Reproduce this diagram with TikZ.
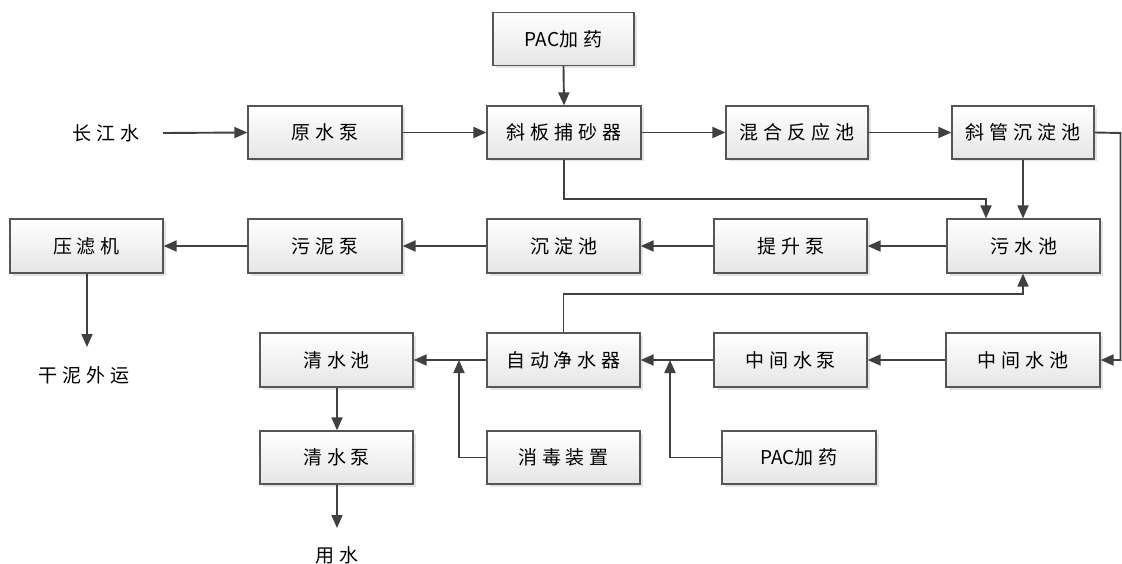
\documentclass[tikz,border=0pt]{standalone}
\usepackage{fontspec}
\setmainfont{Noto Sans CJK SC}
\usetikzlibrary{arrows.meta,shadows}
\definecolor{lc}{HTML}{404040}
\definecolor{bc}{HTML}{555555}
\newcommand\ls{\hspace{5pt}}
\begin{document}
\begin{tikzpicture}[x=1pt,y=-1pt,
  box/.style={draw=bc,line width=1.2pt,top color=white,bottom color=black!10,
    minimum height=53pt,inner sep=0pt,
    drop shadow={shadow xshift=2.5pt,shadow yshift=-2.5pt,fill=black!18,opacity=0.6},
    font=\fontsize{19}{22}\selectfont},
  lbl/.style={inner sep=0pt,font=\fontsize{19}{22}\selectfont},
  arr/.style={draw=lc,line width=1.9pt,-{Triangle[length=13pt,width=11pt]}},
  ln/.style={draw=lc,line width=1.9pt}]
\useasboundingbox (0,0) rectangle (1122,564);
% row 0
\node[box,minimum width=141pt] (pac1) at (563.5,39) {PAC加\ls 药};
% row 1
\node[lbl] (cj) at (106,133) {长\ls 江\ls 水};
\coordinate (cjs) at (163,133);
\node[box,minimum width=154pt] (yuan) at (325,132.5) {原\ls 水\ls 泵};
\node[box,minimum width=154pt] (xieban) at (564,132.5) {斜\ls 板\ls 捕\ls 砂\ls 器};
\node[box,minimum width=142pt] (hunhe) at (797,132.5) {混\ls 合\ls 反\ls 应\ls 池};
\node[box,minimum width=142pt] (xieguan) at (1023,132.5) {斜\ls 管\ls 沉\ls 淀\ls 池};
% row 2
\node[box,minimum width=153pt,minimum height=54pt] (yaluji) at (86.5,246) {压\ls 滤\ls 机};
\node[box,minimum width=154pt,minimum height=54pt] (wunibeng) at (325,246) {污\ls 泥\ls 泵};
\node[box,minimum width=153pt,minimum height=54pt] (chendian) at (563.5,246) {沉\ls 淀\ls 池};
\node[box,minimum width=153pt,minimum height=54pt] (tisheng) at (790.5,246) {提\ls 升\ls 泵};
\node[box,minimum width=153pt,minimum height=54pt] (wushui) at (1023.5,246) {污\ls 水\ls 池};
\node[lbl] (ganni) at (84,375) {干\ls 泥\ls 外\ls 运};
% row 3
\node[box,minimum width=153pt,minimum height=54pt] (qingchi) at (336.5,360) {清\ls 水\ls 池};
\node[box,minimum width=153pt,minimum height=54pt] (zidong) at (563.5,360) {自\ls 动\ls 净\ls 水\ls 器};
\node[box,minimum width=153pt,minimum height=54pt] (zhongbeng) at (790.5,360) {中\ls 间\ls 水\ls 泵};
\node[box,minimum width=154pt,minimum height=54pt] (zhongchi) at (1023,360) {中\ls 间\ls 水\ls 池};
% row 4
\node[box,minimum width=153pt] (qingbeng) at (336.5,457.5) {清\ls 水\ls 泵};
\node[box,minimum width=153pt] (xiaodu) at (563.5,457.5) {消\ls 毒\ls 装\ls 置};
\node[box,minimum width=154pt] (pac2) at (799,457.5) {PAC加\ls 药};
\node[lbl] (yong) at (337,555) {用\ls 水};
% coordinates
\coordinate (gend) at (87,347);
\coordinate (yend) at (337,528);
\coordinate (j1) at (459,360);
\coordinate (j2) at (670,360);
% connectors
\draw[arr] (pac1.south) -- (xieban.north);
\draw[arr] (cjs) -- (yuan.west);
\draw[arr] (yuan) -- (xieban);
\draw[arr] (xieban) -- (hunhe);
\draw[arr] (hunhe) -- (xieguan);
\draw[arr] (xieban.south) |- (775,199) -| (wushui.north -| 986,0);
\draw[arr] (xieguan.south) -- (xieguan.south |- wushui.north);
\draw[arr] (xieguan.east) -- (1120.5,133) |- (zhongchi.east);
\draw[arr] (wushui) -- (tisheng);
\draw[arr] (tisheng) -- (chendian);
\draw[arr] (chendian) -- (wunibeng);
\draw[arr] (wunibeng) -- (yaluji);
\draw[arr] (yaluji.south -| gend) -- (gend);
\draw[arr] (zhongchi) -- (zhongbeng);
\draw[arr] (zhongbeng) -- (zidong);
\draw[arr] (zidong.north) |- (800,294) -| (xieguan.south |- wushui.south);
\draw[arr] (zidong) -- (qingchi);
\draw[arr] (pac2.west) -| (j2);
\draw[arr] (xiaodu.west) -| (j1);
\draw[arr] (qingchi.south -| yend) -- (qingbeng.north -| yend);
\draw[arr] (qingbeng.south -| yend) -- (yend);
\end{tikzpicture}
\end{document}
